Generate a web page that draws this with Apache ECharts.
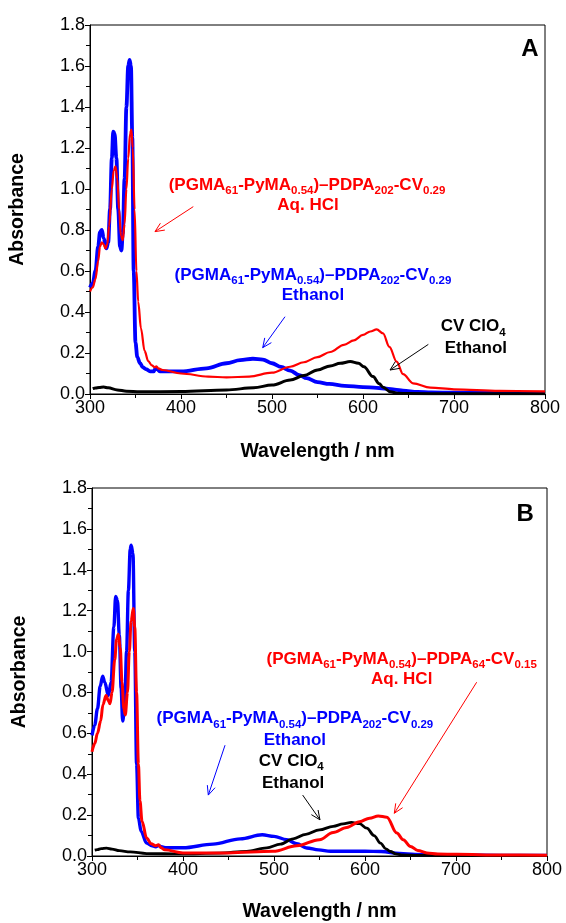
<!DOCTYPE html>
<html><head><meta charset="utf-8">
<script src="https://cdn.jsdelivr.net/npm/echarts@6/dist/echarts.min.js"></script>
<style>html,body{margin:0;padding:0;background:#fff}#c{width:566px;height:923px}</style>
</head><body><div id="c"></div>
<script>
// ---- Panel A data ----
const aBlueX = [300,303,306,309,311,313,315,318,320,322,324,325.5,327,329,331,333,334.5,336,338,340,342,343.5,345,346.5,348,350,352,355,358,362,366,370,372,374,377,385,400,428,450,465,479,490,500,510,520,530,538,550,563,580,600,615,626,635,644,660,675,700,750,800];
const aBlueY = [0.52,0.54,0.60,0.72,0.79,0.80,0.76,0.71,0.74,0.90,1.15,1.28,1.27,1.15,0.90,0.72,0.70,0.78,1.05,1.40,1.60,1.63,1.60,1.25,0.60,0.25,0.18,0.15,0.13,0.12,0.11,0.11,0.125,0.12,0.11,0.11,0.11,0.125,0.15,0.165,0.172,0.168,0.15,0.132,0.114,0.092,0.077,0.058,0.049,0.040,0.034,0.030,0.026,0.021,0.016,0.010,0.008,0.006,0.005,0.005];
const aRedX = [300,303,306,309,311,313,315,317,319,321,324,326,328,330,332,334,336,338,340,342,344,345.5,347,349,351,353,356,360,364,368,371,373,375,380,400,430,450,475,500,520,535,550,564,579,590,600,608,615,622,629,637,644,655,674,700,750,800];
const aRedY = [0.50,0.52,0.56,0.65,0.72,0.74,0.73,0.71,0.73,0.82,1.00,1.09,1.11,1.05,0.90,0.77,0.75,0.83,1.00,1.15,1.27,1.29,1.20,0.90,0.60,0.45,0.32,0.21,0.16,0.14,0.13,0.135,0.125,0.117,0.10,0.085,0.081,0.085,0.104,0.133,0.155,0.18,0.205,0.24,0.262,0.288,0.305,0.315,0.296,0.23,0.158,0.097,0.052,0.031,0.023,0.015,0.013];
const aBlackX = [303,306,310,315,320,330,340,355,400,450,480,500,520,535,550,564,575,586,595,601,611,618,622,630,638,650,700,800];
const aBlackY = [0.026,0.029,0.032,0.034,0.030,0.020,0.014,0.011,0.012,0.020,0.030,0.044,0.068,0.090,0.117,0.137,0.150,0.158,0.150,0.133,0.085,0.050,0.033,0.011,0.004,0.002,0.001,0.001];

// ---- Panel B data ----
const bBlueX = [300,303,306,309,311.7,314,318,321,324,326,328,330,332,333.7,336,338,340,342,343,345,347,349,351,354,360,366,370,373,376,382,400,433,463,487,500,514,525,536,549,562,582,600,618,638,655,675,700,750,800];
const bBlueY = [0.59,0.64,0.72,0.83,0.88,0.85,0.785,0.85,1.12,1.27,1.25,1.08,0.82,0.66,0.74,1.00,1.30,1.50,1.52,1.48,1.00,0.45,0.185,0.12,0.063,0.05,0.045,0.052,0.045,0.04,0.04,0.058,0.084,0.104,0.096,0.08,0.06,0.039,0.03,0.023,0.023,0.023,0.022,0.012,0.008,0.005,0.004,0.003,0.003];
const bRedX = [300,303,306,309.5,312,315.4,318,319.8,322,325,327,329,331,333,335,336.6,339,341,343,345.4,347,349,351,352.7,355,360,365,370,373,376,380,400,450,499,525,550,565,580,594,605,614.6,624,635,642,650,658,668,680,701,750,800];
const bRedY = [0.51,0.55,0.60,0.66,0.74,0.785,0.76,0.745,0.80,0.96,1.06,1.085,1.02,0.85,0.72,0.69,0.80,1.00,1.15,1.21,1.12,0.80,0.45,0.27,0.17,0.088,0.06,0.05,0.055,0.04,0.03,0.015,0.015,0.023,0.05,0.08,0.115,0.14,0.168,0.185,0.196,0.19,0.112,0.08,0.047,0.027,0.015,0.010,0.008,0.005,0.004];
const bBlackX = [303,306,310,316,322,330,342,360,397,440,470,492,507,521,535,550,565,576,585,594,602,610,617,623,628,634,640,660,700,800];
const bBlackY = [0.029,0.031,0.036,0.039,0.034,0.026,0.020,0.012,0.010,0.014,0.023,0.040,0.058,0.084,0.106,0.128,0.145,0.157,0.164,0.158,0.136,0.100,0.063,0.035,0.022,0.010,0.005,0.003,0.002,0.002];

const xTicks = [300,400,500,600,700,800];
const yTicks = [0.0,0.2,0.4,0.6,0.8,1.0,1.2,1.4,1.6,1.8];

const blue = '#0000ff', red = '#ff0000', black = '#000000';
const zip = (xs, ys) => xs.map((x, i) => [x, ys[i]]);

const chart = echarts.init(document.getElementById('c'), null, {renderer: 'canvas'});
const font = 'Liberation Sans, Arial, sans-serif';

function xAx(gi) {
  return {
    gridIndex: gi, type: 'value', min: xTicks[0], max: xTicks[xTicks.length-1], interval: 100,
    name: 'Wavelength / nm', nameLocation: 'middle', nameGap: gi === 0 ? 48 : 46,
    nameTextStyle: {fontFamily: font, fontSize: 19.5, fontWeight: 'bold', color: '#000'},
    axisLine: {lineStyle: {color: '#000', width: 1}},
    axisTick: {inside: false, length: 5, lineStyle: {color: '#000'}},
    minorTick: {show: true, splitNumber: 2, length: 4, lineStyle: {color: '#000'}},
    axisLabel: {fontFamily: font, fontSize: 18, color: '#000', margin: 5},
    splitLine: {show: false}
  };
}
function yAx(gi) {
  return {
    gridIndex: gi, type: 'value', min: yTicks[0], max: yTicks[yTicks.length-1], interval: 0.2,
    name: 'Absorbance', nameLocation: 'middle', nameGap: 62, nameRotate: 90,
    nameTextStyle: {fontFamily: font, fontSize: 19.5, fontWeight: 'bold', color: '#000'},
    axisLine: {show: true, lineStyle: {color: '#000', width: 1}},
    axisTick: {show: true, inside: false, length: 5, lineStyle: {color: '#000'}},
    minorTick: {show: true, splitNumber: 2, length: 4, lineStyle: {color: '#000'}},
    axisLabel: {fontFamily: font, fontSize: 18, color: '#000', margin: 5, formatter: v => v.toFixed(1)},
    splitLine: {show: false}
  };
}
function ser(gi, data, color, w) {
  return {type: 'line', xAxisIndex: gi, yAxisIndex: gi, data, showSymbol: false, symbol: 'none',
    smooth: 0.35, smoothMonotone: 'x', lineStyle: {color, width: w}, itemStyle: {color}, animation: false};
}

chart.setOption({
  animation: false,
  backgroundColor: '#fff',
  grid: [
    {left: 90, top: 25, width: 455, height: 369, show: true, borderColor: '#000', borderWidth: 1, backgroundColor: 'transparent'},
    {left: 92, top: 488, width: 455, height: 370, show: true, borderColor: '#000', borderWidth: 1, backgroundColor: 'transparent'}
  ],
  xAxis: [xAx(0), xAx(1)],
  yAxis: [yAx(0), yAx(1)],
  series: [
    ser(0, zip(aBlueX, aBlueY), blue, 3.8),
    ser(0, zip(aBlackX, aBlackY), black, 3),
    ser(0, zip(aRedX, aRedY), red, 2.2),
    ser(1, zip(bBlueX, bBlueY), blue, 3.4),
    ser(1, zip(bBlackX, bBlackY), black, 2.8),
    ser(1, zip(bRedX, bRedY), red, 3)
  ]
});

// ---- annotations (data coordinates) ----
const rich = c => ({
  m: {fontFamily: font, fontSize: 17, fontWeight: 'bold', fill: c, color: c, lineHeight: 18, verticalAlign: 'middle'},
  s: {fontFamily: font, fontSize: 11.5, fontWeight: 'bold', fill: c, color: c, lineHeight: 10, padding: [12, 0, 0, 0], verticalAlign: 'middle'}
});
const polyTxt = (n1, n2, n3, n4) => `{m|(PGMA}{s|${n1}}{m|-PyMA}{s|${n2}}{m|)–PDPA}{s|${n3}}{m|-CV}{s|${n4}}`;
const texts = [
  {g: 0, at: [538.5, 1.02], t: polyTxt('61','0.54','202','0.29'), c: red},
  {g: 0, at: [539.6, 0.922], t: '{m|Aq. HCl}', c: red},
  {g: 0, at: [545, 0.58], t: polyTxt('61','0.54','202','0.29'), c: blue},
  {g: 0, at: [545, 0.483], t: '{m|Ethanol}', c: blue},
  {g: 0, at: [721, 0.33], t: '{m|CV ClO}{s|4}', c: black},
  {g: 0, at: [724, 0.224], t: '{m|Ethanol}', c: black},
  {g: 1, at: [640.3, 0.963], t: polyTxt('61','0.54','64','0.15'), c: red},
  {g: 1, at: [640.3, 0.866], t: '{m|Aq. HCl}', c: red},
  {g: 1, at: [523, 0.672], t: polyTxt('61','0.54','202','0.29'), c: blue},
  {g: 1, at: [523, 0.566], t: '{m|Ethanol}', c: blue},
  {g: 1, at: [519, 0.464], t: '{m|CV ClO}{s|4}', c: black},
  {g: 1, at: [521, 0.355], t: '{m|Ethanol}', c: black}
];
const letters = [{g: 0, at: [783.5, 1.68], t: 'A'}, {g: 1, at: [776, 1.67], t: 'B'}];
const arrows = [
  {g: 0, from: [413.5, 0.914], to: [371.4, 0.792], c: red},
  {g: 0, from: [514.3, 0.377], to: [489.8, 0.226], c: blue},
  {g: 0, from: [671.8, 0.242], to: [629.7, 0.117], c: black},
  {g: 1, from: [722.7, 0.85], to: [632.2, 0.209], c: red},
  {g: 1, from: [446.2, 0.542], to: [427.8, 0.298], c: blue},
  {g: 1, from: [531.5, 0.298], to: [550.5, 0.177], c: black}
];

const px = (g, p) => chart.convertToPixel({xAxisIndex: g, yAxisIndex: g}, p);
const graphics = [];
texts.forEach(o => {
  const p = px(o.g, o.at);
  graphics.push({type: 'text', x: p[0], y: p[1], z: 10,
    style: {text: o.t, rich: rich(o.c), align: 'center', verticalAlign: 'middle', fill: o.c}});
});
letters.forEach(o => {
  const p = px(o.g, o.at);
  graphics.push({type: 'text', x: p[0], y: p[1], z: 10,
    style: {text: o.t, font: 'bold 24px ' + font, fill: '#000', align: 'center', verticalAlign: 'middle'}});
});
arrows.forEach(o => {
  const a = px(o.g, o.from), b = px(o.g, o.to);
  const ang = Math.atan2(a[1] - b[1], a[0] - b[0]);
  const L = 10, s = 0.42;
  const h1 = [b[0] + L * Math.cos(ang + s), b[1] + L * Math.sin(ang + s)];
  const h2 = [b[0] + L * Math.cos(ang - s), b[1] + L * Math.sin(ang - s)];
  graphics.push({type: 'polyline', z: 10, shape: {points: [a, b]}, style: {stroke: o.c, lineWidth: 1, fill: null}});
  graphics.push({type: 'polyline', z: 10, shape: {points: [h1, b, h2]}, style: {stroke: o.c, lineWidth: 1, fill: null}});
});
chart.setOption({graphic: graphics});
</script></body></html>
